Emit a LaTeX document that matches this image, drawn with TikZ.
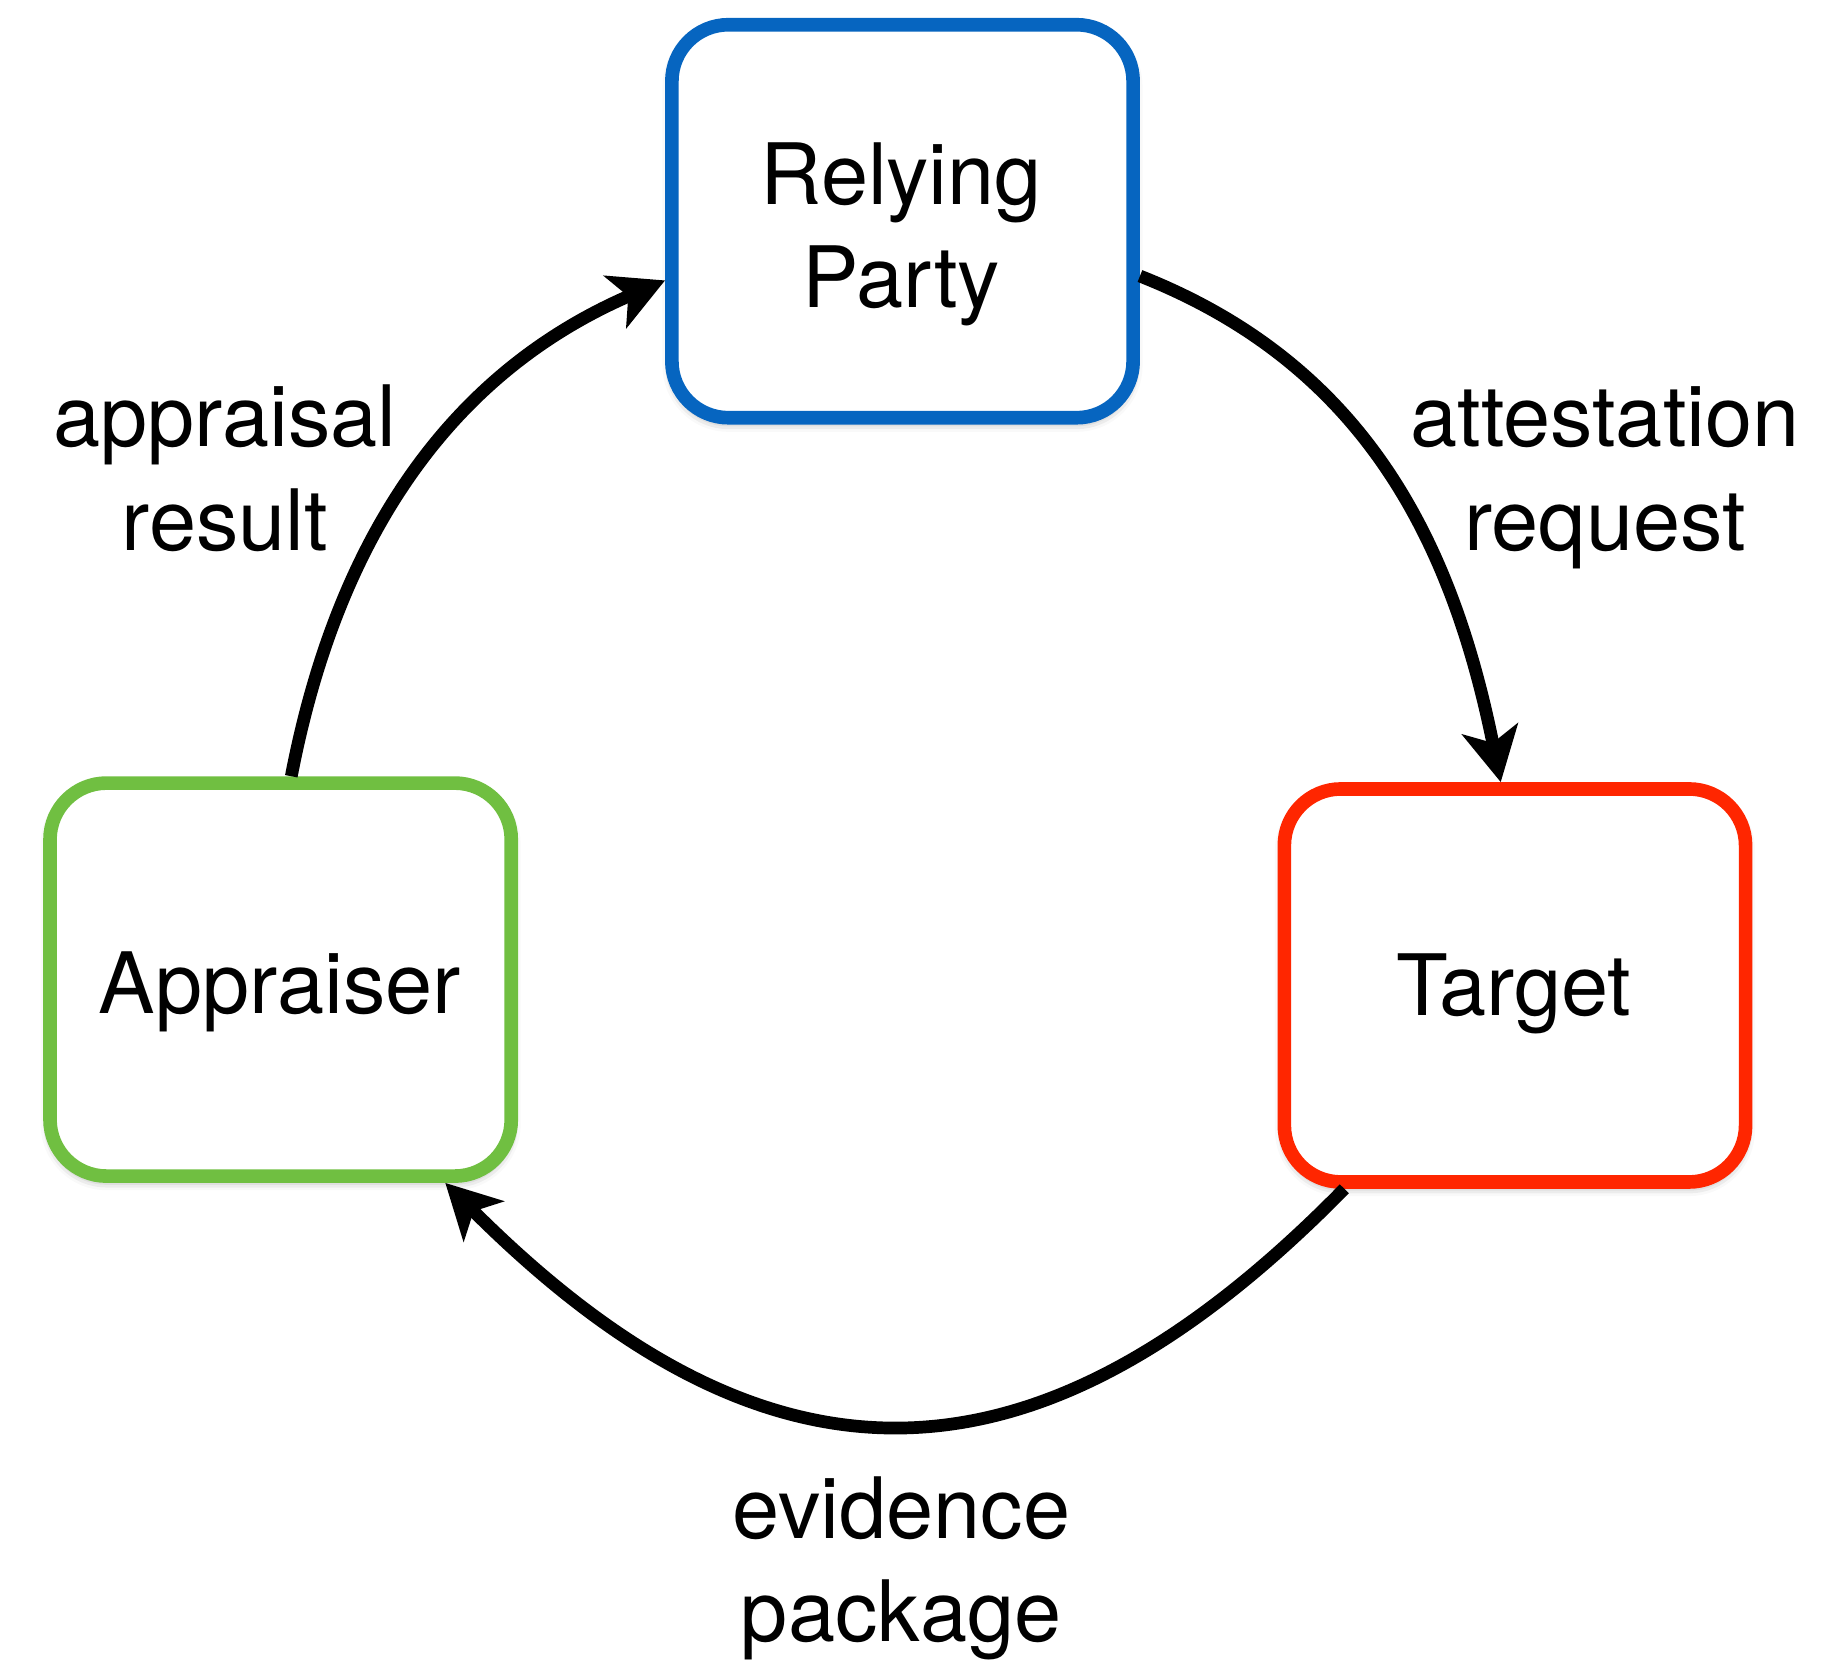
\documentclass[tikz,border=0pt]{standalone}
\usepackage{fontspec}
\setmainfont{TeX Gyre Heros}
\usetikzlibrary{arrows.meta,shadows.blur}
\definecolor{rpblue}{RGB}{6,101,192}
\definecolor{tgred}{RGB}{255,38,0}
\definecolor{apgreen}{RGB}{112,191,65}
\begin{document}
\begin{tikzpicture}[x=0.5pt,y=-0.5pt,
  entity/.style={draw, line width=5.8pt, rounded corners=24pt, fill=white,
    minimum width=196pt, minimum height=167pt, inner sep=0pt,
    blur shadow={shadow xshift=0pt, shadow yshift=-2pt,
      shadow blur radius=4pt, shadow opacity=40}},
  txt/.style={font=\fontsize{36pt}{44pt}\selectfont, align=center,
    inner sep=0pt, outer sep=0pt},
  flow/.style={line width=5.4pt,
    -{Stealth[length=23pt,width=24pt,inset=6pt]}}]
\useasboundingbox (0,0) rectangle (1568,1410);

% the three parties
\node[entity, draw=rpblue]  (rp) at (767,188)    {};
\node[entity, draw=apgreen] (ap) at (238.5,832.5) {};
\node[entity, draw=tgred]   (tg) at (1287.5,837.5) {};

\node[txt] (rplabel) at (766,199)    {Relying\\Party};
\node[txt] (aplabel) at (238,843)    {Appraiser};
\node[txt] (tglabel) at (1286.5,845) {Target};

% the attestation cycle
\draw[flow] (ap.87.5) .. controls (286,460) and (380,318) .. (rp.194);
\draw[flow] (rp.347.5) .. controls (1160,310) and (1234,460) .. (tg.94.75);
\draw[flow] (tg.230.9) .. controls (878,1280) and (650,1277) .. (ap.309.1);

% message labels
\node[txt] (lres) at (191,398)  {appraisal\\result};
\node[txt] (lreq) at (1364,406) {attestation\\request};
\node[txt] (lev)  at (766,1333) {evidence\\package};
\end{tikzpicture}
\end{document}
